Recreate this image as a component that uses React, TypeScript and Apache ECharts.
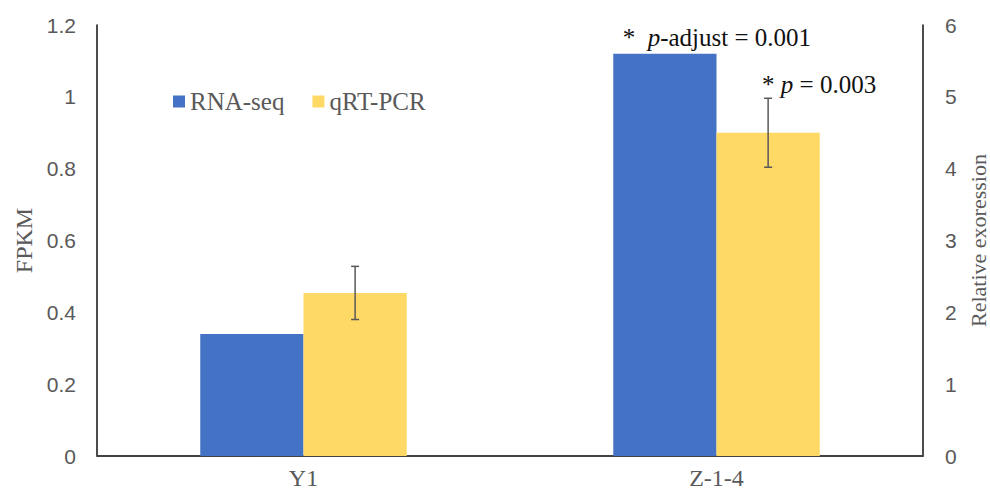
import React, { useEffect, useRef } from "react";
import * as echarts from "echarts";

const categories = ["Y1", "Z-1-4"];
const rnaSeq = [0.34, 1.12];
const qrtPcr = [2.27, 4.5];
const qrtErr = [0.37, 0.48];
const leftTicks = { min: 0, max: 1.2, interval: 0.2 };
const rightTicks = { min: 0, max: 6, interval: 1 };

const SERIF = "'Liberation Serif', 'Times New Roman', serif";
const SANS = "'Liberation Sans', Arial, sans-serif";
const GREY = "#595959";

export default function App() {
  const ref = useRef<HTMLDivElement>(null);
  useEffect(() => {
    if (!ref.current) return;
    const chart = echarts.init(ref.current, undefined, { renderer: "svg" });
    const rich = {
      s: { fontFamily: SERIF, fontSize: 25, color: "#111" },
      i: { fontFamily: SERIF, fontSize: 25, fontStyle: "italic", color: "#111" },
    };
    chart.setOption({
      animation: false,
      backgroundColor: "#fff",
      grid: { left: 97, right: 67, top: 25, bottom: 39, outerBoundsMode: "none", containLabel: false },
      legend: {
        left: 168,
        top: 84,
        itemWidth: 12,
        itemHeight: 12,
        itemGap: 28,
        icon: "rect",
        textStyle: { fontFamily: SERIF, fontSize: 25, color: GREY },
        data: ["RNA-seq", "qRT-PCR"],
      },
      xAxis: [
        {
          type: "category",
          data: categories,
          axisLine: { lineStyle: { color: "#d0d0d0", width: 1.5 } },
          axisTick: { show: false },
          axisLabel: { fontFamily: SERIF, fontSize: 24, color: GREY, margin: 10 },
        },
        {
          type: "category",
          data: categories,
          position: "top",
          axisLine: { lineStyle: { color: "#111", width: 1.5 } },
          axisTick: { show: false },
          axisLabel: { show: false },
        },
      ],
      yAxis: [
        {
          type: "value",
          ...leftTicks,
          name: "FPKM",
          nameLocation: "middle",
          nameGap: 60,
          nameTextStyle: { fontFamily: SERIF, fontSize: 24, color: GREY },
          axisLine: { show: true, lineStyle: { color: "#111", width: 1.5 } },
          axisTick: { show: false },
          splitLine: { show: false },
          axisLabel: { fontFamily: SANS, fontSize: 21, color: GREY, margin: 21 },
        },
        {
          type: "value",
          ...rightTicks,
          name: "Relative exoression",
          nameLocation: "middle",
          nameGap: 39,
          nameRotate: 90,
          nameTextStyle: { fontFamily: SERIF, fontSize: 22, color: GREY },
          axisLine: { show: true, lineStyle: { color: "#111", width: 1.5 } },
          axisTick: { show: false },
          splitLine: { show: false },
          axisLabel: { fontFamily: SANS, fontSize: 21, color: GREY, margin: 22 },
        },
      ],
      series: [
        {
          name: "RNA-seq",
          type: "bar",
          yAxisIndex: 0,
          barWidth: "25%",
          barGap: "0%",
          itemStyle: { color: "#4472C4" },
          data: rnaSeq.map((v, i) => ({
            value: v,
            label:
              i === 1
                ? {
                    show: true,
                    position: "top",
                    distance: 4,
                    offset: [52, 0],
                    formatter: "{s|*  }{i|p}{s|-adjust = 0.001}",
                    rich,
                  }
                : { show: false },
          })),
        },
        {
          name: "qRT-PCR",
          type: "bar",
          yAxisIndex: 1,
          barWidth: "25%",
          barGap: "0%",
          itemStyle: { color: "#FFD966" },
          data: qrtPcr.map((v, i) => ({
            value: v,
            label:
              i === 1
                ? {
                    show: true,
                    position: "top",
                    distance: 36,
                    offset: [51, 0],
                    formatter: "{s|* }{i|p}{s| = 0.003}",
                    rich,
                  }
                : { show: false },
          })),
        },
        {
          name: "err",
          type: "custom",
          yAxisIndex: 1,
          z: 10,
          data: qrtPcr.map((v, i) => [i, v - qrtErr[i], v + qrtErr[i]]),
          renderItem: (params: any, api: any) => {
            const idx = api.value(0);
            const lo = api.coord([idx, api.value(1)]);
            const hi = api.coord([idx, api.value(2)]);
            const band = api.size([1, 0])[0];
            const x = lo[0] + band * 0.125;
            const w = 4;
            const style = { stroke: GREY, lineWidth: 1.5 };
            return {
              type: "group",
              children: [
                { type: "line", shape: { x1: x, y1: hi[1], x2: x, y2: lo[1] }, style },
                { type: "line", shape: { x1: x - w, y1: hi[1], x2: x + w, y2: hi[1] }, style },
                { type: "line", shape: { x1: x - w, y1: lo[1], x2: x + w, y2: lo[1] }, style },
              ],
            };
          },
        },
      ],
    });
    return () => chart.dispose();
  }, []);
  return (
    <div
      ref={ref}
      style={{ position: "fixed", left: 0, top: 0, width: 990, height: 495 }}
    />
  );
}
